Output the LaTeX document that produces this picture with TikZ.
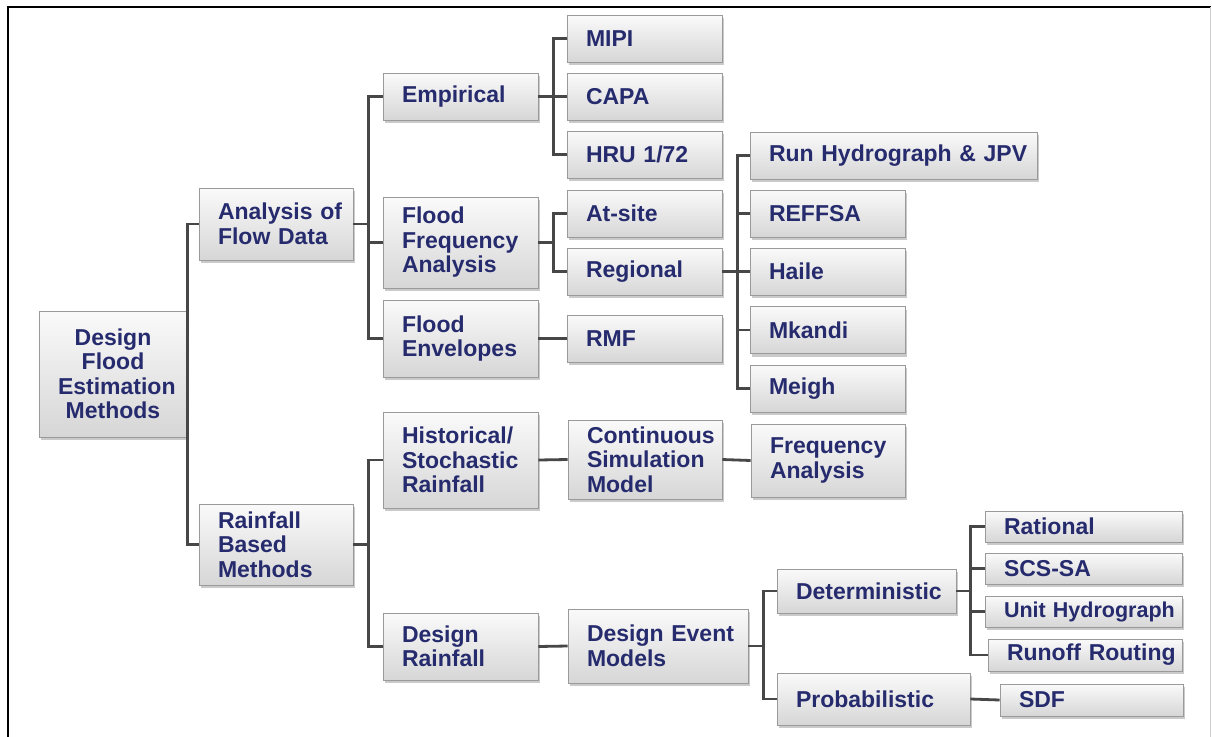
\documentclass[tikz,border=0pt]{standalone}
\usepackage{fontspec}
\setmainfont{Liberation Sans}
\usepackage{tikz}
\usetikzlibrary{shadows}
\definecolor{cText}{HTML}{262B6E}
\definecolor{cEdge}{HTML}{9A9A9A}
\definecolor{cLink}{HTML}{474747}
\tikzset{
  basebox/.style={draw=cEdge, line width=0.8pt, top color=gray!4, bottom color=gray!32,
              drop shadow={shadow xshift=2pt, shadow yshift=-3pt, opacity=0.35, fill=black!60},
              text=cText, font=\bfseries\fontsize{23}{24.5}\selectfont, inner ysep=0pt},
  tbox/.style={basebox, inner xsep=19pt, text width=#1-38pt, align=left,
              execute at begin node={\rightskip=-16pt plus 1fil}},
  link/.style={draw=cLink, line width=2.8pt},
}
\begin{document}
\begin{tikzpicture}[x=1pt, y=-1pt]
  \useasboundingbox (0,0) rectangle (1212,736);
  \draw[line width=2pt] (8,745) -- (8,7) -- (1210.5,7);
  \draw[line width=1pt, gray!40] (1210.5,7) -- (1210.5,745);
  \node[basebox, align=center, text width=110pt, inner xsep=19pt, minimum height=126pt] (root) at (113,374) {Design\\Flood\\Estimation\\Methods};
  \node[tbox=154pt, minimum height=72pt] (anaflow) at (276,224) {Analysis of\\Flow Data};
  \node[tbox=154pt, minimum height=81pt] (rainmeth) at (276,544.5) {Rainfall\\Based\\Methods};
  \node[tbox=155pt, minimum height=47pt] (empir) at (460.5,96.5) {Empirical};
  \node[tbox=155pt, minimum height=91pt] (ffa) at (460.5,242.5) {Flood\\Frequency\\Analysis};
  \node[tbox=155pt, minimum height=77pt] (fenv) at (460.5,338.5) {Flood\\Envelopes};
  \node[tbox=155pt, minimum height=96pt] (histrain) at (460.5,460) {Historical/\\Stochastic\\Rainfall};
  \node[tbox=155pt, minimum height=67pt] (desrain) at (460.5,646.5) {Design\\Rainfall};
  \node[tbox=155pt, minimum height=47pt] (mipi) at (644.5,38.5) {MIPI};
  \node[tbox=155pt, minimum height=47pt] (capa) at (644.5,96.5) {CAPA};
  \node[tbox=155pt, minimum height=47pt] (hru) at (644.5,154.5) {HRU 1/72};
  \node[tbox=155pt, minimum height=47pt] (atsite) at (644.5,213.5) {At-site};
  \node[tbox=155pt, minimum height=47pt] (regional) at (644.5,271.5) {Regional};
  \node[tbox=155pt, minimum height=47pt] (rmf) at (644.5,338.5) {RMF};
  \node[tbox=154pt, minimum height=79pt] (csm) at (645,459.5) {Continuous\\Simulation\\Model};
  \node[tbox=180pt, minimum height=74pt] (dem) at (658,646) {Design Event\\Models};
  \node[tbox=287pt, minimum height=47pt] (runhyd) at (893.5,155.5) {Run Hydrograph \& JPV};
  \node[tbox=155pt, minimum height=47pt] (reffsa) at (827.5,213.5) {REFFSA};
  \node[tbox=155pt, minimum height=47pt] (haile) at (827.5,271.5) {Haile};
  \node[tbox=155pt, minimum height=47pt] (mkandi) at (827.5,330) {Mkandi};
  \node[tbox=155pt, minimum height=47pt] (meigh) at (827.5,388.5) {Meigh};
  \node[tbox=154pt, minimum height=73pt] (freqan) at (828,460.5) {Frequency\\Analysis};
  \node[tbox=179pt, minimum height=44pt] (determ) at (866.5,591) {Deterministic};
  \node[tbox=193pt, minimum height=52pt] (probab) at (873.5,699) {Probabilistic};
  \node[tbox=197pt, minimum height=31pt] (rational) at (1083.5,526.5) {Rational};
  \node[tbox=197pt, minimum height=31pt] (scssa) at (1083.5,568.5) {SCS-SA};
  \node[tbox=197pt, minimum height=31pt, font=\bfseries\fontsize{21.5}{23}\selectfont] (unithyd) at (1083.5,611.5) {Unit Hydrograph};
  \node[tbox=194pt, minimum height=32pt] (runoff) at (1085,655) {Runoff Routing};
  \node[tbox=183pt, minimum height=32pt] (sdf) at (1091.5,700) {SDF};
  \draw[link] (anaflow.west) -- ++(-11,0) |- (rainmeth.west);
  \foreach \c in {empir,ffa,fenv} \draw[link] (anaflow.east) -- ++(15,0) |- (\c.west);
  \foreach \c in {histrain,desrain} \draw[link] (rainmeth.east) -- ++(15,0) |- (\c.west);
  \foreach \c in {mipi,capa,hru} \draw[link] (empir.east) -- ++(15,0) |- (\c.west);
  \foreach \c in {atsite,regional} \draw[link] (ffa.east) -- ++(15,0) |- (\c.west);
  \foreach \c in {runhyd,reffsa,haile,mkandi,meigh} \draw[link] (regional.east) -- ++(15,0) |- (\c.west);
  \foreach \c in {determ,probab} \draw[link] (dem.east) -- ++(15,0) |- (\c.west);
  \foreach \c in {rational,scssa,unithyd,runoff} \draw[link] (determ.east) -- ++(14,0) |- (\c.west);
  \draw[link] (fenv.east) -- (rmf.west);
  \draw[link] (histrain.east) -- (csm.west);
  \draw[link] (csm.east) -- (freqan.west);
  \draw[link] (desrain.east) -- (dem.west);
  \draw[link] (probab.east) -- (sdf.west);
\end{tikzpicture}
\end{document}
